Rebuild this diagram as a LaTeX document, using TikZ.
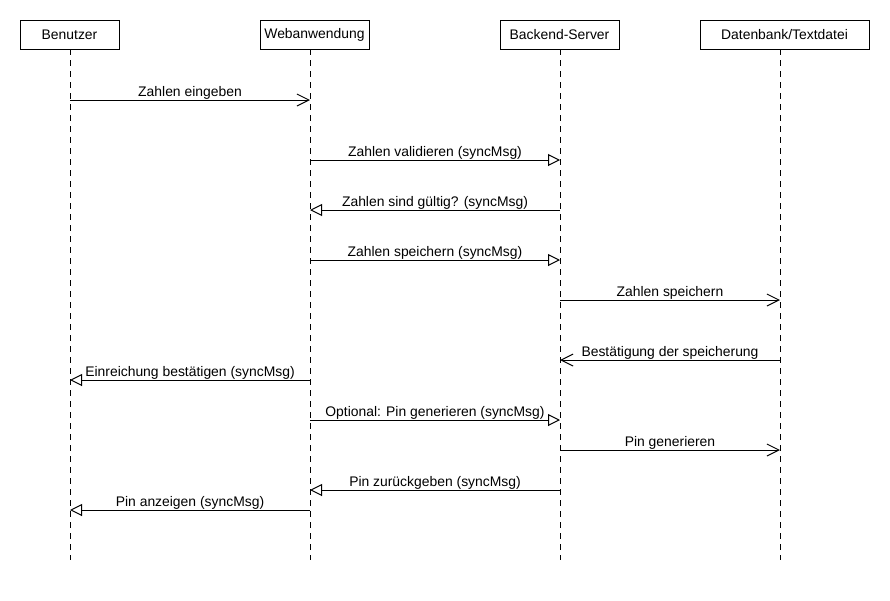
\documentclass[tikz,border=0pt]{standalone}
\usepackage{fontspec}
\setmainfont{Liberation Sans}
\usetikzlibrary{arrows.meta}
\begin{document}
\begin{tikzpicture}[x=1pt,y=-1pt,
  font=\fontsize{13.9}{16}\selectfont,
  actor/.style={draw,line width=1pt,inner sep=0pt,minimum height=29pt},
  lifeline/.style={line width=1pt,dash pattern=on 6pt off 5pt},
  syncmsg/.style={line width=1pt,-{Triangle[open,length=12pt,width=12pt,fill=white]}},
  asyncmsg/.style={line width=1pt,-{Straight Barb[length=12pt,width=12pt]}},
  lbl/.style={anchor=base,inner sep=0pt,yshift=4pt}]
\useasboundingbox[fill=white] (0,0) rectangle (890,600);
% actors
\node[actor,minimum width=99pt]  (ben) at (69.5,34.5)  {Benutzer};
\node[actor,minimum width=109pt] (web) at (314.5,34.5) {Webanwendung};
\node[actor,minimum width=119pt] (bac) at (559.5,34.5) {Backend-Server};
\node[actor,minimum width=169pt] (dat) at (784.5,34.5) {Datenbank/Textdatei};
% lifeline coordinates
\coordinate (B) at (70,49);  \coordinate (Be) at (70,560);
\coordinate (W) at (310,49); \coordinate (We) at (310,560);
\coordinate (S) at (560,49); \coordinate (Se) at (560,560);
\coordinate (D) at (780,49); \coordinate (De) at (780,560);
\draw[lifeline] (B) -- (Be);
\draw[lifeline] (W) -- (We);
\draw[lifeline] (S) -- (Se);
\draw[lifeline] (D) -- (De);
% message end points
\foreach \n/\y in {1/100,2/160,3/210,4/260,5/300,6/360,7/380,8/420,9/450,10/490,11/510}{
  \coordinate (b\n) at (70,\y);
  \coordinate (w\n) at (310,\y);
  \coordinate (s\n) at (560,\y);
  \coordinate (d\n) at (780,\y);
}
% messages
\draw[asyncmsg] (b1) -- node[lbl]{Zahlen eingeben} (w1);
\draw[syncmsg] (w2) -- node[lbl]{Zahlen validieren (syncMsg)} (s2);
\draw[syncmsg] (s3) -- node[lbl]{Zahlen sind gültig? (syncMsg)} (w3);
\draw[syncmsg] (w4) -- node[lbl]{Zahlen speichern (syncMsg)} (s4);
\draw[asyncmsg] (s5) -- node[lbl]{Zahlen speichern} (d5);
\draw[asyncmsg] (d6) -- node[lbl]{Bestätigung der speicherung} (s6);
\draw[syncmsg] (w7) -- node[lbl]{Einreichung bestätigen (syncMsg)} (b7);
\draw[syncmsg] (w8) -- node[lbl]{Optional: Pin generieren (syncMsg)} (s8);
\draw[asyncmsg] (s9) -- node[lbl]{Pin generieren} (d9);
\draw[syncmsg] (s10) -- node[lbl]{Pin zurückgeben (syncMsg)} (w10);
\draw[syncmsg] (w11) -- node[lbl]{Pin anzeigen (syncMsg)} (b11);
\end{tikzpicture}
\end{document}
